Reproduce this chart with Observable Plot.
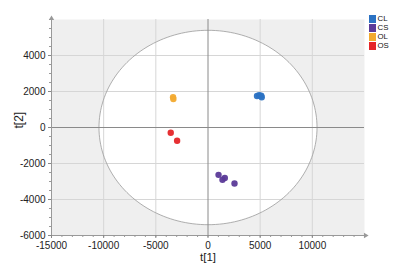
<!DOCTYPE html>
<html>
<head>
<meta charset="utf-8">
<script src="https://cdn.jsdelivr.net/npm/d3@7"></script>
<script src="https://cdn.jsdelivr.net/npm/@observablehq/plot@0.6"></script>
<style>
  html, body { margin: 0; padding: 0; background: #fff; }
  #wrap { position: relative; width: 412px; height: 269px; font-family: "Liberation Sans", Arial, sans-serif; }
  #legend { position: absolute; left: 369px; top: 14px; }
  #legend .sw { position: absolute; left: 0; width: 7px; height: 8px; }
  #legend .lab { position: absolute; left: 8.5px; font-size: 7.8px; line-height: 9px; height: 9px; color: #111; white-space: nowrap; }
</style>
</head>
<body>
<div id="wrap"><div id="legend"></div></div>
<script>
// ---- data ----
const groups = ["CL", "CS", "OL", "OS"];
const groupColors = ["#2b72c3", "#5b3a98", "#f2aa30", "#e52528"];
const pointGroup = ["CL","CL","CL","CL", "CS","CS","CS","CS", "OL","OL", "OS","OS"];
const t1Values = [4700, 4900, 5100, 5150, 1010, 1610, 1390, 2540, -3350, -3320, -3570, -2960];
const t2Values = [1750, 1790, 1760, 1680, -2630, -2800, -2900, -3110, 1680, 1580, -290, -740];
const xTicks = [-15000, -10000, -5000, 0, 5000, 10000];
const yTicks = [-6000, -4000, -2000, 0, 2000, 4000];
const xGrid = [-10000, -5000, 5000, 10000];
const yGrid = [-4000, -2000, 2000, 4000];
const ellipseRadii = [10450, 5400]; // Hotelling T2 ellipse half-axes

const points = pointGroup.map((g, i) => ({group: g, t1: t1Values[i], t2: t2Values[i]}));
const ellipse = d3.range(0, 361, 2).map(a => ({
  x: ellipseRadii[0] * Math.cos(a * Math.PI / 180),
  y: ellipseRadii[1] * Math.sin(a * Math.PI / 180)
}));

const fmt = d => String(d);
const plot = Plot.plot({
  width: 412,
  height: 269,
  marginLeft: 51,
  marginRight: 48,
  marginTop: 19,
  marginBottom: 34,
  style: {fontFamily: "'Liberation Sans', Arial, sans-serif", fontSize: "10px", background: "transparent", color: "#222"},
  x: {domain: [-15000, 15000]},
  y: {domain: [-6000, 6000]},
  color: {domain: groups, range: groupColors},
  marks: [
    Plot.frame({fill: "#efefef", stroke: null}),
    Plot.line(ellipse, {x: "x", y: "y", fill: "white", stroke: null}),
    Plot.ruleX(xGrid, {stroke: "#d6d6d6", strokeWidth: 1}),
    Plot.ruleY(yGrid, {stroke: "#d6d6d6", strokeWidth: 1}),
    Plot.line(ellipse, {x: "x", y: "y", stroke: "#9a9a9a", strokeWidth: 0.8}),
    Plot.ruleX([0], {stroke: "#8a8a8a", strokeWidth: 1}),
    Plot.ruleY([0], {stroke: "#8a8a8a", strokeWidth: 1}),
    // axis lines
    Plot.ruleX([-15000], {stroke: "#999", strokeWidth: 1}),
    Plot.ruleY([-6000], {stroke: "#999", strokeWidth: 1}),
    Plot.axisX(d3.range(-15000, 15001, 1000), {tickSize: 2, text: null, stroke: "#999"}),
    Plot.axisY(d3.range(-6000, 6001, 500), {tickSize: 2, text: null, stroke: "#999"}),
    Plot.axisX(xTicks, {tickSize: 3, tickPadding: 3.5, tickFormat: fmt, stroke: "#888", fill: "#222", label: null, fontSize: 10}),
    Plot.axisY(yTicks, {tickSize: 3, tickPadding: 3, tickFormat: fmt, stroke: "#888", fill: "#222", label: null, fontSize: 10}),
    Plot.dot([[-15000, 6000]], {x: d => d[0], y: d => d[1], symbol: "triangle", r: 2, fill: "#999", dy: -1}),
    Plot.dot([[15000, -6000]], {x: d => d[0], y: d => d[1], symbol: "triangle", r: 2, fill: "#999", rotate: 90, dx: 1}),
    Plot.dot(points, {x: "t1", y: "t2", fill: "group", r: 3.2, fillOpacity: 0.95}),
    Plot.text(["t[1]"], {frameAnchor: "bottom", dy: 25.5, text: d => d, fontSize: 11.5, fill: "#222"}),
    Plot.text(["t[2]"], {frameAnchor: "left", dx: -32, dy: 1, rotate: -90, text: d => d, fontSize: 12, fill: "#222"})
  ]
});
document.getElementById("wrap").prepend(plot);

const legend = document.getElementById("legend");
const rowStep = 9;
groups.forEach((g, i) => {
  const sw = document.createElement("div");
  sw.className = "sw";
  sw.style.top = (i * rowStep + 0.5) + "px";
  sw.style.background = groupColors[i];
  const label = document.createElement("div");
  label.className = "lab";
  label.style.top = (i * rowStep) + "px";
  label.textContent = g;
  legend.append(sw, label);
});
</script>
</body>
</html>
